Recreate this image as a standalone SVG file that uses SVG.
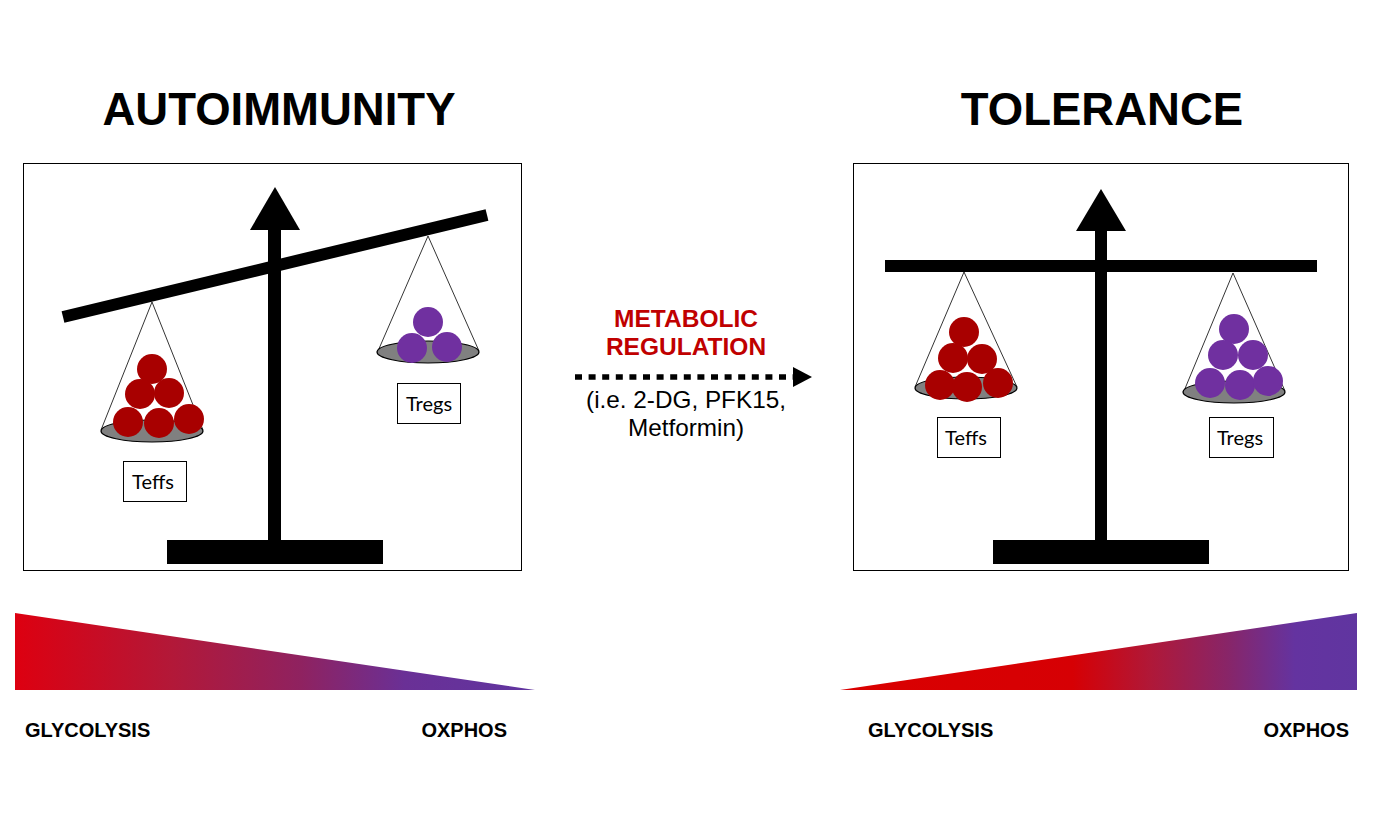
<svg xmlns="http://www.w3.org/2000/svg" width="1377" height="837" viewBox="0 0 1377 837">
<defs>
<style>
.title{font-family:"Liberation Sans",Arial,sans-serif;font-weight:bold;font-size:45.5px;fill:#000;text-anchor:middle}
.lbl{font-family:"Liberation Sans",Arial,sans-serif;font-weight:bold;font-size:20px;fill:#000}
.box{fill:#fff;stroke:#000;stroke-width:1}
.tag{fill:#fff;stroke:#000;stroke-width:1}
.tagt{font-family:Lato,"Liberation Sans",Arial,sans-serif;font-size:20px;fill:#000;text-anchor:middle}
.str{stroke:#000;stroke-width:0.8;fill:none}
.pan{fill:#808080;stroke:#000;stroke-width:1.2}
.red{fill:#A80000}
.pur{fill:#7030A0}
.blk{fill:#000}
.mid{font-family:"Liberation Sans",Arial,sans-serif;font-size:24.3px;fill:#000;text-anchor:middle}
.midr{font-family:"Liberation Sans",Arial,sans-serif;font-weight:bold;font-size:24.5px;fill:#C00000;text-anchor:middle}
</style>
<linearGradient id="gL" x1="15" y1="0" x2="535" y2="0" gradientUnits="userSpaceOnUse">
<stop offset="0" stop-color="#DD0010"/>
<stop offset="0.3" stop-color="#B31838"/>
<stop offset="0.55" stop-color="#8F2260"/>
<stop offset="0.75" stop-color="#6A3096"/>
<stop offset="1" stop-color="#6035A0"/>
</linearGradient>
<linearGradient id="gR" x1="840" y1="0" x2="1357" y2="0" gradientUnits="userSpaceOnUse">
<stop offset="0" stop-color="#DA0000"/>
<stop offset="0.45" stop-color="#D60004"/>
<stop offset="0.6" stop-color="#B01838"/>
<stop offset="0.75" stop-color="#882568"/>
<stop offset="0.88" stop-color="#6433A0"/>
<stop offset="1" stop-color="#6035A0"/>
</linearGradient>
</defs>
<rect width="1377" height="837" fill="#fff"/>

<text class="title" x="279" y="125">AUTOIMMUNITY</text>
<text class="title" x="1102" y="125">TOLERANCE</text>

<g id="left-panel">
<rect class="box" x="23.5" y="163.5" width="498" height="407"/>
<g id="left-scale">
<rect class="blk" x="268" y="226" width="13" height="316"/>
<polygon class="blk" points="275,187 250,230 300,230"/>
<line x1="63" y1="317" x2="487" y2="215" stroke="#000" stroke-width="12"/>
<rect class="blk" x="167" y="540" width="216" height="24"/>
</g>
<g id="left-teffs-pan">
<line class="str" x1="152" y1="302" x2="101" y2="430"/>
<line class="str" x1="152" y1="302" x2="203" y2="430"/>
<ellipse class="pan" cx="152" cy="431" rx="51" ry="11"/>
<circle class="red" cx="152" cy="369" r="15"/>
<circle class="red" cx="140" cy="394" r="15"/>
<circle class="red" cx="169" cy="393" r="15"/>
<circle class="red" cx="128" cy="422" r="15"/>
<circle class="red" cx="159" cy="423" r="15"/>
<circle class="red" cx="189" cy="419" r="15"/>
</g>
<g id="left-tregs-pan">
<line class="str" x1="428" y1="236" x2="378" y2="351"/>
<line class="str" x1="428" y1="236" x2="479" y2="351"/>
<ellipse class="pan" cx="428" cy="352" rx="51" ry="11"/>
<circle class="pur" cx="428" cy="322" r="15"/>
<circle class="pur" cx="412" cy="348" r="15"/>
<circle class="pur" cx="447" cy="347" r="15"/>
</g>
<g id="left-teffs-label">
<rect class="tag" x="123.5" y="461.5" width="63" height="40"/>
<text class="tagt" x="153" y="489">Teffs</text>
</g>
<g id="left-tregs-label">
<rect class="tag" x="397.5" y="383.5" width="63" height="40"/>
<text class="tagt" x="429" y="411">Tregs</text>
</g>
</g>

<g id="right-panel">
<rect class="box" x="853.5" y="163.5" width="495" height="407"/>
<g id="right-scale">
<rect class="blk" x="1095" y="226" width="12" height="316"/>
<polygon class="blk" points="1101,189 1076,231 1126,231"/>
<rect class="blk" x="885" y="260" width="432" height="12"/>
<rect class="blk" x="993" y="540" width="216" height="24"/>
</g>
<g id="right-teffs-pan">
<line class="str" x1="964" y1="272" x2="915" y2="387"/>
<line class="str" x1="964" y1="272" x2="1017" y2="387"/>
<ellipse class="pan" cx="966" cy="388" rx="51" ry="11"/>
<circle class="red" cx="964" cy="332" r="15"/>
<circle class="red" cx="953" cy="358" r="15"/>
<circle class="red" cx="982" cy="359" r="15"/>
<circle class="red" cx="940" cy="385" r="15"/>
<circle class="red" cx="967" cy="387" r="15"/>
<circle class="red" cx="998" cy="383" r="15"/>
</g>
<g id="right-tregs-pan">
<line class="str" x1="1233" y1="273" x2="1184" y2="391"/>
<line class="str" x1="1233" y1="273" x2="1285" y2="391"/>
<ellipse class="pan" cx="1234" cy="392" rx="51" ry="11"/>
<circle class="pur" cx="1234" cy="329" r="15"/>
<circle class="pur" cx="1223" cy="355" r="15"/>
<circle class="pur" cx="1253" cy="355" r="15"/>
<circle class="pur" cx="1210" cy="383" r="15"/>
<circle class="pur" cx="1240" cy="385" r="15"/>
<circle class="pur" cx="1268" cy="381" r="15"/>
</g>
<g id="right-teffs-label">
<rect class="tag" x="937.5" y="417.5" width="63" height="40"/>
<text class="tagt" x="966" y="445">Teffs</text>
</g>
<g id="right-tregs-label">
<rect class="tag" x="1209.5" y="417.5" width="64" height="40"/>
<text class="tagt" x="1240" y="445">Tregs</text>
</g>
</g>

<g id="connectors">
<line x1="575" y1="377" x2="793" y2="377" stroke="#000" stroke-width="5.5" stroke-dasharray="7 6.6"/>
<polygon class="blk" points="793,367 812,377 793,387"/>
</g>

<g id="middle-label">
<text class="midr" x="686" y="327">METABOLIC</text>
<text class="midr" x="686" y="355">REGULATION</text>
<text class="mid" x="686" y="408">(i.e. 2-DG, PFK15,</text>
<text class="mid" x="686" y="436">Metformin)</text>
</g>

<g id="left-gradient">
<polygon points="15,613 535,690 15,690" fill="url(#gL)"/>
<text class="lbl" x="25" y="737">GLYCOLYSIS</text>
<text class="lbl" x="507" y="737" text-anchor="end">OXPHOS</text>
</g>
<g id="right-gradient">
<polygon points="840,690 1357,613 1357,690" fill="url(#gR)"/>
<text class="lbl" x="868" y="737">GLYCOLYSIS</text>
<text class="lbl" x="1349" y="737" text-anchor="end">OXPHOS</text>
</g>
</svg>
